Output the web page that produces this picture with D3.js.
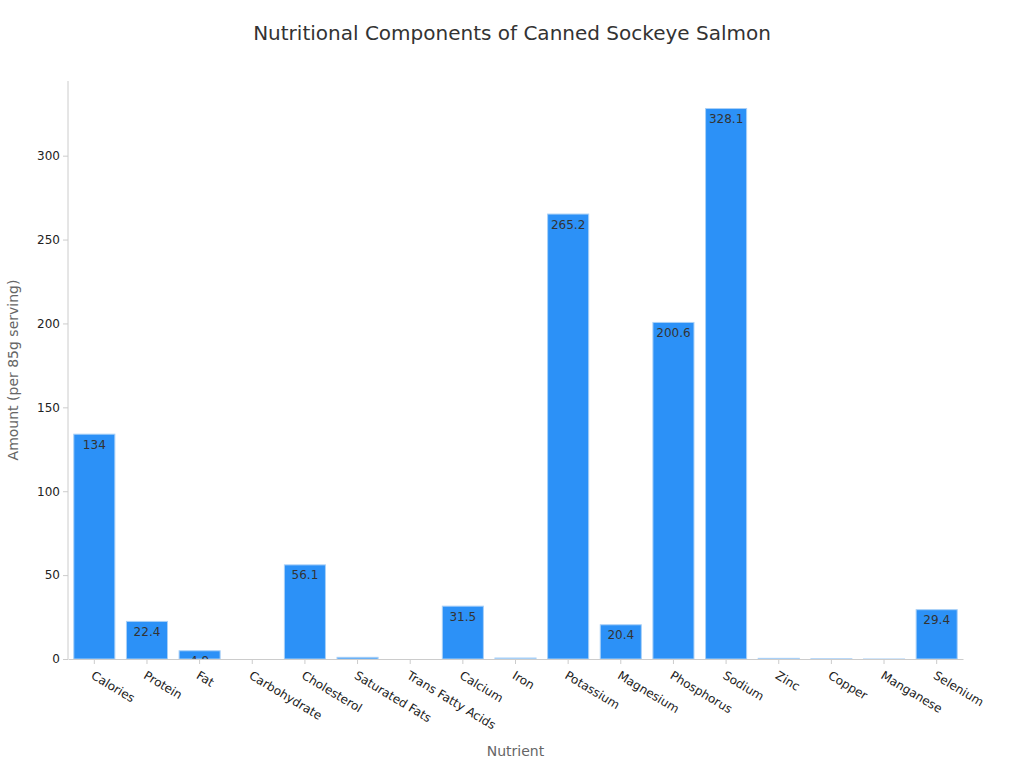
<!DOCTYPE html>
<html>
<head>
<meta charset="utf-8">
<script src="https://cdn.jsdelivr.net/npm/d3@7"></script>
<style>
    body { margin: 0; background: #fff; font-family: "DejaVu Sans", sans-serif; }
    .axis path, .axis line { stroke: #ccc; }
    .axis text { fill: #222; font-size: 12px; font-family: "DejaVu Sans", sans-serif; }
    .title { fill: #333; font-size: 20px; }
    .label { fill: #666; font-size: 14px; }
    .value { fill: #333; font-size: 12px; }
</style>
</head>
<body>
<svg id="chart" width="1024" height="768"></svg>
<script>
// nutrient names along the x axis
const categories = ['Calories', 'Protein', 'Fat', 'Carbohydrate', 'Cholesterol', 'Saturated Fats',
    'Trans Fatty Acids', 'Calcium', 'Iron', 'Potassium', 'Magnesium', 'Phosphorus', 'Sodium',
    'Zinc', 'Copper', 'Manganese', 'Selenium'];

// amount per 85g serving
const amounts = [134, 22.4, 4.9, 0, 56.1, 1.0, 0, 31.5, 0.6, 265.2, 20.4, 200.6, 328.1, 0.4, 0.1, 0.01, 29.4];

const y_ticks = [0, 50, 100, 150, 200, 250, 300];

const input_data = categories.map((c, i) => ({label: c, value: amounts[i], idx: i}));

const svg = d3.select('#chart');
const margin = {top: 81, right: 61, bottom: 109, left: 68};
const width = 1024 - margin.left - margin.right;
const height = 768 - margin.top - margin.bottom;

const chart = svg.append('g')
    .attr('transform', `translate(${margin.left}, ${margin.top})`);

const xScale = d3.scaleBand()
    .range([0, width])
    .domain(input_data.map((d) => d.label))
    .paddingInner(0.22)
    .paddingOuter(0.11);

const max_y = d3.max(input_data, (d) => d.value) * 1.05;
const yScale = d3.scaleLinear()
    .range([height, 0])
    .domain([0, max_y]);

// one clip per bar so the value text never spills out of its bar
const defs = chart.append('defs');
input_data.forEach((d) => {
    defs.append('clipPath')
        .attr('id', 'clip' + d.idx)
        .append('rect')
        .attr('x', xScale(d.label))
        .attr('y', yScale(d.value))
        .attr('width', xScale.bandwidth())
        .attr('height', height - yScale(d.value));
});

const barGroups = chart.selectAll('.bar-group')
    .data(input_data)
    .enter()
    .append('g')
    .attr('class', 'bar-group');

barGroups.append('rect')
    .attr('x', (d) => xScale(d.label))
    .attr('y', (d) => yScale(d.value))
    .attr('width', xScale.bandwidth())
    .attr('height', (d) => height - yScale(d.value))
    .attr('fill', '#2c91f7')
    .attr('stroke', '#a9d0f7')
    .attr('stroke-width', 1);

barGroups.filter((d) => d.value > 0)
    .append('text')
    .attr('class', 'value')
    .attr('clip-path', (d) => 'url(#clip' + d.idx + ')')
    .attr('x', (d) => xScale(d.label) + xScale.bandwidth() / 2)
    .attr('y', (d) => yScale(d.value) + 14.5)
    .attr('text-anchor', 'middle')
    .text((d) => d.value);

// y axis
const yAxis = chart.append('g')
    .attr('class', 'axis')
    .call(d3.axisLeft(yScale).tickValues(y_ticks).tickSize(5).tickPadding(3));
yAxis.select('.domain').attr('d', `M0,${height}V0`);
yAxis.selectAll('.tick line').attr('stroke', '#444');

// x axis
const xAxis = chart.append('g')
    .attr('class', 'axis')
    .attr('transform', `translate(0, ${height})`)
    .call(d3.axisBottom(xScale).tickSize(5).tickSizeOuter(0));
xAxis.selectAll('.tick line').attr('stroke', '#555');
xAxis.selectAll('.tick text')
    .attr('text-anchor', 'start')
    .attr('dy', 0)
    .attr('transform', 'translate(0, 12) rotate(31)');

// titles
svg.append('text')
    .attr('class', 'title')
    .attr('x', 512)
    .attr('y', 40)
    .attr('text-anchor', 'middle')
    .text('Nutritional Components of Canned Sockeye Salmon');

svg.append('text')
    .attr('class', 'label')
    .attr('x', -(margin.top + height / 2))
    .attr('y', 18)
    .attr('transform', 'rotate(-90)')
    .attr('text-anchor', 'middle')
    .text('Amount (per 85g serving)');

svg.append('text')
    .attr('class', 'label')
    .attr('x', margin.left + width / 2)
    .attr('y', 756)
    .attr('text-anchor', 'middle')
    .text('Nutrient');
</script>
</body>
</html>
